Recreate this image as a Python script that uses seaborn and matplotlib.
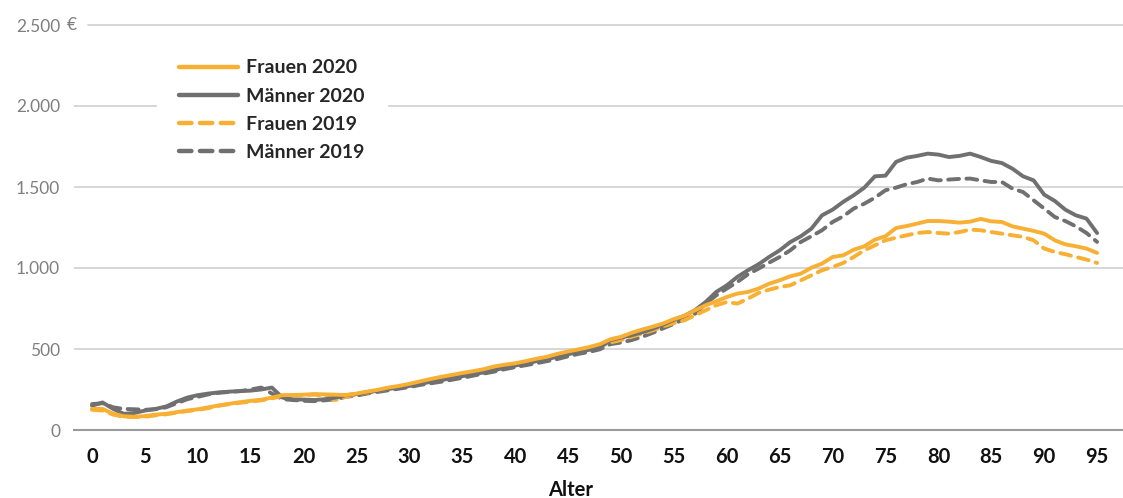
import numpy as np
import pandas as pd
import matplotlib
matplotlib.use("Agg")
import matplotlib.pyplot as plt
import seaborn as sns

# values (Euro per age)
alter = list(range(0, 96))

maenner_2020 = [150, 170, 130, 100, 105, 120, 130, 145, 175, 200,
                215, 225, 232, 237, 240, 243, 250, 262, 200, 188,
                188, 185, 190, 200, 215, 222, 232, 243, 253, 263,
                272, 285, 297, 308, 320, 332, 345, 355, 368, 385,
                398, 410, 425, 438, 452, 468, 482, 495, 510, 555,
                570, 585, 603, 625, 650, 680, 705, 740, 790, 852,
                893, 945, 986, 1023, 1068, 1109, 1160, 1196, 1243, 1325,
                1360, 1408, 1449, 1496, 1566, 1570, 1655, 1681, 1692, 1706,
                1700, 1685, 1692, 1706, 1685, 1661, 1648, 1613, 1566, 1541,
                1453, 1414, 1360, 1325, 1305, 1216]

maenner_2019 = [160, 165, 140, 130, 128, 125, 128, 140, 165, 190,
                205, 220, 230, 235, 240, 250, 262, 225, 190, 185,
                180, 178, 183, 190, 205, 212, 225, 235, 245, 255,
                265, 278, 288, 298, 310, 322, 335, 348, 360, 375,
                388, 400, 412, 425, 438, 455, 470, 482, 498, 530,
                540, 555, 575, 600, 628, 655, 687, 718, 780, 831,
                873, 914, 961, 996, 1033, 1068, 1109, 1161, 1196, 1233,
                1284, 1319, 1367, 1397, 1434, 1480, 1496, 1517, 1531, 1552,
                1541, 1546, 1550, 1552, 1541, 1531, 1531, 1490, 1469, 1418,
                1367, 1315, 1290, 1257, 1216, 1161]

frauen_2020 = [130, 130, 100, 85, 82, 86, 95, 100, 110, 120,
               128, 140, 152, 162, 172, 180, 187, 200, 215, 216,
               218, 222, 220, 218, 216, 225, 237, 248, 262, 272,
               285, 300, 315, 328, 340, 352, 363, 375, 392, 403,
               412, 425, 440, 452, 470, 485, 498, 512, 530, 560,
               575, 600, 620, 638, 658, 685, 705, 739, 770, 794,
               821, 842, 852, 873, 903, 924, 949, 965, 1002, 1027,
               1068, 1078, 1113, 1134, 1175, 1196, 1247, 1259, 1274, 1290,
               1290, 1286, 1280, 1286, 1303, 1288, 1284, 1257, 1243, 1229,
               1212, 1171, 1146, 1134, 1120, 1093]

frauen_2019 = [125, 120, 95, 82, 80, 82, 90, 97, 107, 117,
               125, 135, 150, 160, 168, 176, 183, 195, 210, 212,
               215, 218, 212, 185, 205, 220, 230, 242, 255, 265,
               278, 292, 305, 318, 330, 342, 353, 366, 380, 393,
               403, 415, 428, 440, 455, 470, 485, 500, 515, 540,
               555, 575, 595, 615, 640, 660, 677, 708, 739, 770,
               790, 780, 811, 846, 866, 883, 893, 924, 955, 986,
               1006, 1031, 1068, 1109, 1140, 1171, 1187, 1202, 1216, 1222,
               1216, 1212, 1222, 1237, 1233, 1222, 1212, 1202, 1192, 1171,
               1120, 1099, 1085, 1068, 1052, 1031]

serien = ["Frauen 2020", "Männer 2020", "Frauen 2019", "Männer 2019"]
y_ticks = [0, 500, 1000, 1500, 2000, 2500]
y_labels = ["0", "500", "1.000", "1.500", "2.000", "2.500"]
x_ticks = list(range(0, 96, 5))

df = pd.concat([
    pd.DataFrame({"Alter": alter, "Wert": frauen_2020, "Serie": "Frauen 2020"}),
    pd.DataFrame({"Alter": alter, "Wert": maenner_2020, "Serie": "Männer 2020"}),
    pd.DataFrame({"Alter": alter, "Wert": frauen_2019, "Serie": "Frauen 2019"}),
    pd.DataFrame({"Alter": alter, "Wert": maenner_2019, "Serie": "Männer 2019"}),
])

orange = "#F8B034"
grau = "#707070"
palette = {"Frauen 2020": orange, "Männer 2020": grau,
           "Frauen 2019": orange, "Männer 2019": grau}
dashes = {"Frauen 2020": "", "Männer 2020": "",
          "Frauen 2019": (2.8, 1.9), "Männer 2019": (2.8, 1.9)}

sns.set_style("white")
plt.rcParams["font.family"] = ["Lato", "DejaVu Sans"]

W, H = 1123, 498
fig = plt.figure(figsize=(W / 100, H / 100), dpi=100)
# axes: left edge 74px, y=0 at 430px, x right edge at figure edge
ax = fig.add_axes([74 / W, (H - 430) / H, (W - 74) / W, (430 - 8.8) / H])

ax.set_xlim(-1.7, 97.45)
ax.set_ylim(0, 2600)

# gridlines
for v in [500, 1000, 1500, 2000]:
    ax.axhline(v, color="#d3d3d3", lw=1.3, zorder=0)
ax.axhline(2500, xmin=14 / (W - 74), color="#d3d3d3", lw=1.3, zorder=0)

sns.lineplot(data=df, x="Alter", y="Wert", hue="Serie", style="Serie",
             hue_order=serien[::-1], style_order=serien[::-1],
             palette=palette, dashes=dashes, lw=2.8,
             dash_capstyle="round", solid_capstyle="round", ax=ax)

for s in ["top", "right", "left"]:
    ax.spines[s].set_visible(False)
ax.spines["bottom"].set_color("#9a9a9a")
ax.spines["bottom"].set_linewidth(1.5)
ax.spines["bottom"].set_zorder(1)

ax.set_xticks(x_ticks)
ax.set_xticklabels([str(t) for t in x_ticks], fontsize=14.5, fontweight="bold", color="#111111")
ax.tick_params(axis="x", length=8.5, width=1.1, color="#9a9a9a", pad=4, direction="out")
ax.set_yticks(y_ticks)
ax.set_yticklabels(y_labels, fontsize=12.5, color="#7f7f7f")
ax.tick_params(axis="y", length=0, pad=10)
ax.set_xlabel("")
ax.set_ylabel("")

fig.text(67 / W, 1 - 25 / H, "€", fontsize=12.5, color="#7f7f7f", ha="left", va="center")
fig.text(571 / W, 1 - 490 / H, "Alter", fontsize=14.5, fontweight="bold", color="#111111",
         ha="center", va="center")

handles, labels = ax.get_legend_handles_labels()
order = [labels.index(s) for s in serien]
leg = ax.legend([handles[i] for i in order], [labels[i] for i in order],
                loc="upper left", bbox_to_anchor=(157 / W, 1 - 37 / H),
                bbox_transform=fig.transFigure, borderaxespad=0,
                frameon=True, facecolor="white", edgecolor="white", framealpha=1,
                fancybox=False, borderpad=1.15, handlelength=3.0, handletextpad=0.45,
                labelspacing=0.58, prop={"size": 14, "weight": "bold"})
for line in leg.get_lines():
    line.set_linewidth(3.2)
leg.set_zorder(5)

fig.savefig("out.png", dpi=100)
